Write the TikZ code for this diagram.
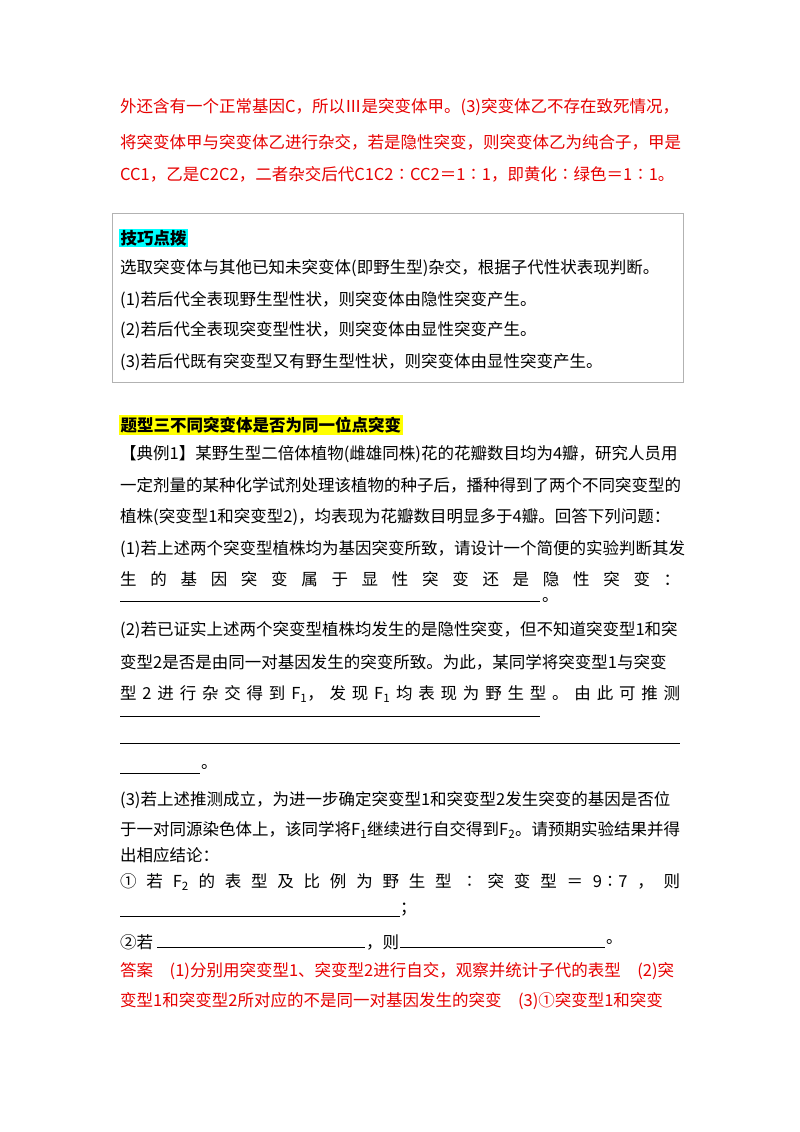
\documentclass[tikz,border=0pt]{standalone}
\usepackage{fontspec}
\setmainfont{Noto Sans CJK SC}
\definecolor{ans}{RGB}{230,0,0}
\definecolor{hcyan}{RGB}{0,255,255}
\definecolor{hyel}{RGB}{255,255,0}
\begin{document}
\begin{tikzpicture}[x=1pt,y=-1pt,
  ln/.style={anchor=west,inner sep=0pt,font=\fontsize{16.5}{18}\selectfont},
  rl/.style={ln,text=ans},
  ul/.style={line width=0.6pt}]
\useasboundingbox (0,0) rectangle (800,1132);
\node[rl] (r1) at (120,107) {外还含有一个正常基因C，所以Ⅲ是突变体甲。(3)突变体乙不存在致死情况，};
\node[rl] (r2) at (120,142) {将突变体甲与突变体乙进行杂交，若是隐性突变，则突变体乙为纯合子，甲是};
\node[rl] (r3) at (120,174) {CC1，乙是C2C2，二者杂交后代C1C2∶CC2＝1∶1，即黄化∶绿色＝1∶1。};
\draw[draw=black!30,line width=0.8pt] (112,213) rectangle (683,382);
\node[ln,fill=hcyan,inner sep=1.5pt,font=\fontsize{16.5}{18}\selectfont\bfseries] (t0) at (119,238) {技巧点拨};
\node[ln] (t1) at (120,268) {选取突变体与其他已知未突变体(即野生型)杂交，根据子代性状表现判断。};
\node[ln] (t2) at (120,300) {(1)若后代全表现野生型性状，则突变体由隐性突变产生。};
\node[ln] (t3) at (120,330) {(2)若后代全表现突变型性状，则突变体由显性突变产生。};
\node[ln] (t4) at (120,362) {(3)若后代既有突变型又有野生型性状，则突变体由显性突变产生。};
\node[ln,fill=hyel,inner sep=1.5pt,font=\fontsize{16.5}{18}\selectfont\bfseries] (h) at (119,425) {题型三不同突变体是否为同一位点突变};
\node[ln] (a1) at (120,454) {【典例1】某野生型二倍体植物(雌雄同株)花的花瓣数目均为4瓣，研究人员用};
\node[ln] (a2) at (120,485) {一定剂量的某种化学试剂处理该植物的种子后，播种得到了两个不同突变型的};
\node[ln] (a3) at (120,517) {植株(突变型1和突变型2)，均表现为花瓣数目明显多于4瓣。回答下列问题：};
\node[ln] (a4) at (120,549) {(1)若上述两个突变型植株均为基因突变所致，请设计一个简便的实验判断其发};
\node[ln] (a5) at (120,579) {\makebox[560pt][s]{生 的 基 因 突 变 属 于 显 性 突 变 还 是 隐 性 突 变 ：}};
\coordinate (u1a) at (120,601); \coordinate (u1b) at (540,601);
\draw[ul] (u1a) -- (u1b);
\node[ln] (p1) at (542,600) {。};
\node[ln] (b1) at (120,630) {(2)若已证实上述两个突变型植株均发生的是隐性突变，但不知道突变型1和突};
\node[ln] (b2) at (120,662) {变型2是否是由同一对基因发生的突变所致。为此，某同学将突变型1与突变};
\node[ln] (b3) at (120,694) {\makebox[560pt][s]{型 2 进 行 杂 交 得 到 F\textsubscript{1}， 发 现 F\textsubscript{1} 均 表 现 为 野 生 型 。 由 此 可 推 测}};
\coordinate (u2a) at (120,716); \coordinate (u2b) at (540,716);
\draw[ul] (u2a) -- (u2b);
\coordinate (u3a) at (120,743); \coordinate (u3b) at (680,743);
\draw[ul] (u3a) -- (u3b);
\coordinate (u4a) at (120,773); \coordinate (u4b) at (200,773);
\draw[ul] (u4a) -- (u4b);
\node[ln] (p2) at (201,767) {。};
\node[ln] (c1) at (120,800) {(3)若上述推测成立，为进一步确定突变型1和突变型2发生突变的基因是否位};
\node[ln] (c2) at (120,830) {于一对同源染色体上，该同学将F\textsubscript{1}继续进行自交得到F\textsubscript{2}。请预期实验结果并得};
\node[ln] (c3) at (120,855) {出相应结论：};
\node[ln] (c4) at (120,882) {\makebox[560pt][s]{① 若 F\textsubscript{2} 的 表 型 及 比 例 为 野 生 型 ∶ 突 变 型 ＝ 9∶7 ， 则}};
\coordinate (u5a) at (120,916); \coordinate (u5b) at (400,916);
\draw[ul] (u5a) -- (u5b);
\node[ln] (p3) at (400,910) {；};
\node[ln] (c5) at (120,942) {②若};
\coordinate (u6a) at (157,947); \coordinate (u6b) at (365,947);
\draw[ul] (u6a) -- (u6b);
\node[ln] (c6) at (366,942) {，则};
\coordinate (u7a) at (400,947); \coordinate (u7b) at (605,947);
\draw[ul] (u7a) -- (u7b);
\node[ln] (p4) at (606,942) {。};
\node[rl] (d1) at (120,971) {答案\quad(1)分别用突变型1、突变型2进行自交，观察并统计子代的表型\quad(2)突};
\node[rl] (d2) at (120,1001) {变型1和突变型2所对应的不是同一对基因发生的突变\quad(3)①突变型1和突变};
\end{tikzpicture}
\end{document}
